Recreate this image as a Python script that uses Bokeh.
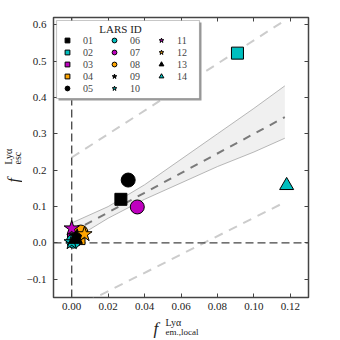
import numpy as np
from bokeh.plotting import figure
from bokeh.layouts import row, column
from bokeh.models import (Range1d, FixedTicker, LinearAxis, Label, Legend, LegendItem,
                          ColumnDataSource, BoxAnnotation)
from bokeh.embed import file_html
from bokeh.resources import INLINE

# ---- data ----
lars_ids = ["01", "02", "03", "04", "05", "06", "07", "08", "09", "10", "11", "12", "13", "14"]
f_em_local = [0.027, 0.091, 0.001, 0.004, 0.031, 0.001, 0.036, 0.005, 0.003, 0.000, 0.000, 0.007, 0.002, 0.118]
f_esc = [0.120, 0.522, 0.010, 0.012, 0.173, 0.005, 0.099, 0.030, 0.017, 0.002, 0.040, 0.024, 0.010, 0.158]
marker_kind = ["square"] * 4 + ["circle"] * 4 + ["star"] * 4 + ["triangle"] * 2
marker_color = ["black", "#00bfbf", "#bf00bf", "orange"] * 3 + ["black", "#00bfbf"]

fit_x = [0.0, 0.02, 0.04, 0.06, 0.08, 0.10, 0.117]
fit_mid = [0.030, 0.084, 0.138, 0.192, 0.246, 0.300, 0.346]
fit_hi = [0.055, 0.100, 0.160, 0.230, 0.300, 0.370, 0.432]
fit_lo = [0.007, 0.068, 0.120, 0.165, 0.210, 0.250, 0.288]
outer_x = [0.0, 0.117]
outer_hi = [0.235, 0.612]
outer_lo = [-0.183, 0.112]

x_ticks = [0.0, 0.02, 0.04, 0.06, 0.08, 0.10, 0.12]
x_tick_labels = ["0.00", "0.02", "0.04", "0.06", "0.08", "0.10", "0.12"]
y_ticks = [-0.1, 0.0, 0.1, 0.2, 0.3, 0.4, 0.5, 0.6]
y_tick_labels = ["\u22120.1", "0.0", "0.1", "0.2", "0.3", "0.4", "0.5", "0.6"]

SERIF = "Liberation Serif"
AX = "#444444"
TXT = "#222222"

STRIP_W = 22
p = figure(width=312, height=315, output_backend="svg", toolbar_location=None,
           x_range=Range1d(-0.01, 0.13), y_range=Range1d(-0.15, 0.62),
           min_border_left=53 - STRIP_W, min_border_right=26, min_border_top=17,
           min_border_bottom=18, x_axis_location=None, y_axis_location=None)
p.xgrid.visible = False
p.ygrid.visible = False
p.outline_line_color = AX
p.outline_line_width = 1.5


def style_axis(ax, ticks, labels, show_labels):
    ax.ticker = FixedTicker(ticks=ticks)
    ax.major_label_overrides = {t: l for t, l in zip(ticks, labels)}
    ax.major_tick_in = 4
    ax.major_tick_out = 0
    ax.minor_tick_in = 0
    ax.minor_tick_out = 0
    ax.axis_line_color = None
    ax.major_tick_line_color = AX
    ax.major_label_text_font = SERIF
    ax.major_label_text_font_size = "11px"
    ax.major_label_text_color = TXT
    if not show_labels:
        ax.major_label_text_alpha = 0
        ax.major_label_text_font_size = "1px"
        ax.major_label_standoff = 0


xb = LinearAxis(); style_axis(xb, x_ticks, x_tick_labels, True); xb.major_label_standoff = 5
yl = LinearAxis(); style_axis(yl, y_ticks, y_tick_labels, True); yl.major_label_standoff = 7
xt = LinearAxis(); style_axis(xt, x_ticks, x_tick_labels, False)
yr = LinearAxis(); style_axis(yr, y_ticks, y_tick_labels, False)
p.add_layout(xb, "below")
p.add_layout(yl, "left")
p.add_layout(xt, "above")
p.add_layout(yr, "right")

p.line(outer_x, outer_hi, line_color="#cccccc", line_width=2, line_dash="9 7")
p.line(outer_x, outer_lo, line_color="#cccccc", line_width=2, line_dash="9 7")
p.varea(x=fit_x, y1=fit_lo, y2=fit_hi, fill_color="#f0f0f0")
p.line(fit_x, fit_hi, line_color="#999999", line_width=0.7)
p.line(fit_x, fit_lo, line_color="#999999", line_width=0.7)
p.line(fit_x, fit_mid, line_color="#7a7a7a", line_width=2, line_dash="8 7")
p.line([0.0, 0.0], [-0.15, 0.62], line_color=AX, line_width=1.3, line_dash="8 4")
p.line([-0.01, 0.13], [0.0, 0.0], line_color=AX, line_width=1.3, line_dash="8 4")

sizes = {"square": 12, "circle": 14, "star": 16, "triangle": 14}
items = []
for i, lid in enumerate(lars_ids):
    src = ColumnDataSource(dict(x=[f_em_local[i]], y=[f_esc[i]]))
    r = p.scatter("x", "y", source=src, marker=marker_kind[i], size=sizes[marker_kind[i]],
                  fill_color=marker_color[i], line_color="black", line_width=1)
    items.append(LegendItem(label=lid, renderers=[r]))


def screen_box(left, right, top, bottom, **kw):
    return BoxAnnotation(left=left, right=right, top=top, bottom=bottom,
                         left_units="screen", right_units="screen",
                         top_units="screen", bottom_units="screen", **kw)


# legend frame with shadow (drawn behind the transparent legend)
p.add_layout(screen_box(5, 148, 275, 197, fill_color="#9a9a9a", fill_alpha=1, line_color=None))
p.add_layout(screen_box(3, 146, 277, 199, fill_color="white", fill_alpha=1,
                        line_color=AX, line_width=1.2))

leg = Legend(items=items, location="top_left", ncols=3, orientation="vertical",
             title="\u00a0", title_text_font=SERIF, title_text_font_style="normal",
             title_text_font_size="11px", title_standoff=0,
             label_text_font=SERIF, label_text_font_size="10px",
             glyph_width=18, glyph_height=12, label_height=12, label_width=22,
             label_standoff=7, spacing=0, padding=2, margin=3,
             border_line_alpha=0, background_fill_alpha=0)
p.add_layout(leg, "center")
p.add_layout(Label(x=67, y=269, x_units="screen", y_units="screen", text="LARS ID",
                   text_font=SERIF, text_font_size="11px", text_color=TXT,
                   text_align="center", text_baseline="middle"))


def text_strip(w, h):
    f = figure(width=w, height=h, output_backend="svg", toolbar_location=None,
               x_range=Range1d(0, w), y_range=Range1d(0, h), min_border=0,
               x_axis_location=None, y_axis_location=None)
    f.xgrid.visible = False
    f.ygrid.visible = False
    f.outline_line_color = None
    return f


def lab(fig, text, x, y, size, style="normal", angle=0.0):
    fig.add_layout(Label(x=x, y=y, x_units="screen", y_units="screen", text=text,
                         text_font=SERIF, text_font_size=size, text_font_style=style,
                         angle=angle, text_align="left", text_baseline="alphabetic",
                         text_color=TXT))


# x-axis label strip (below main plot)
px = text_strip(312, 25)
lab(px, "f", 100, 12, "17px", "italic")
lab(px, "Ly\u03b1", 112, 18, "10px")
lab(px, "em.,local", 112, 9, "9px")

# y-axis label strip (left of main plot)
py = text_strip(STRIP_W, 340)
lab(py, "f", 13, 158, "16px", "italic", np.pi / 2)
lab(py, "Ly\u03b1", 8, 176, "10px", "normal", np.pi / 2)
lab(py, "esc", 17, 176, "10px", "normal", np.pi / 2)

layout = row(py, column(p, px, spacing=0), spacing=0)
open("out.html", "w").write(file_html(layout, INLINE))
